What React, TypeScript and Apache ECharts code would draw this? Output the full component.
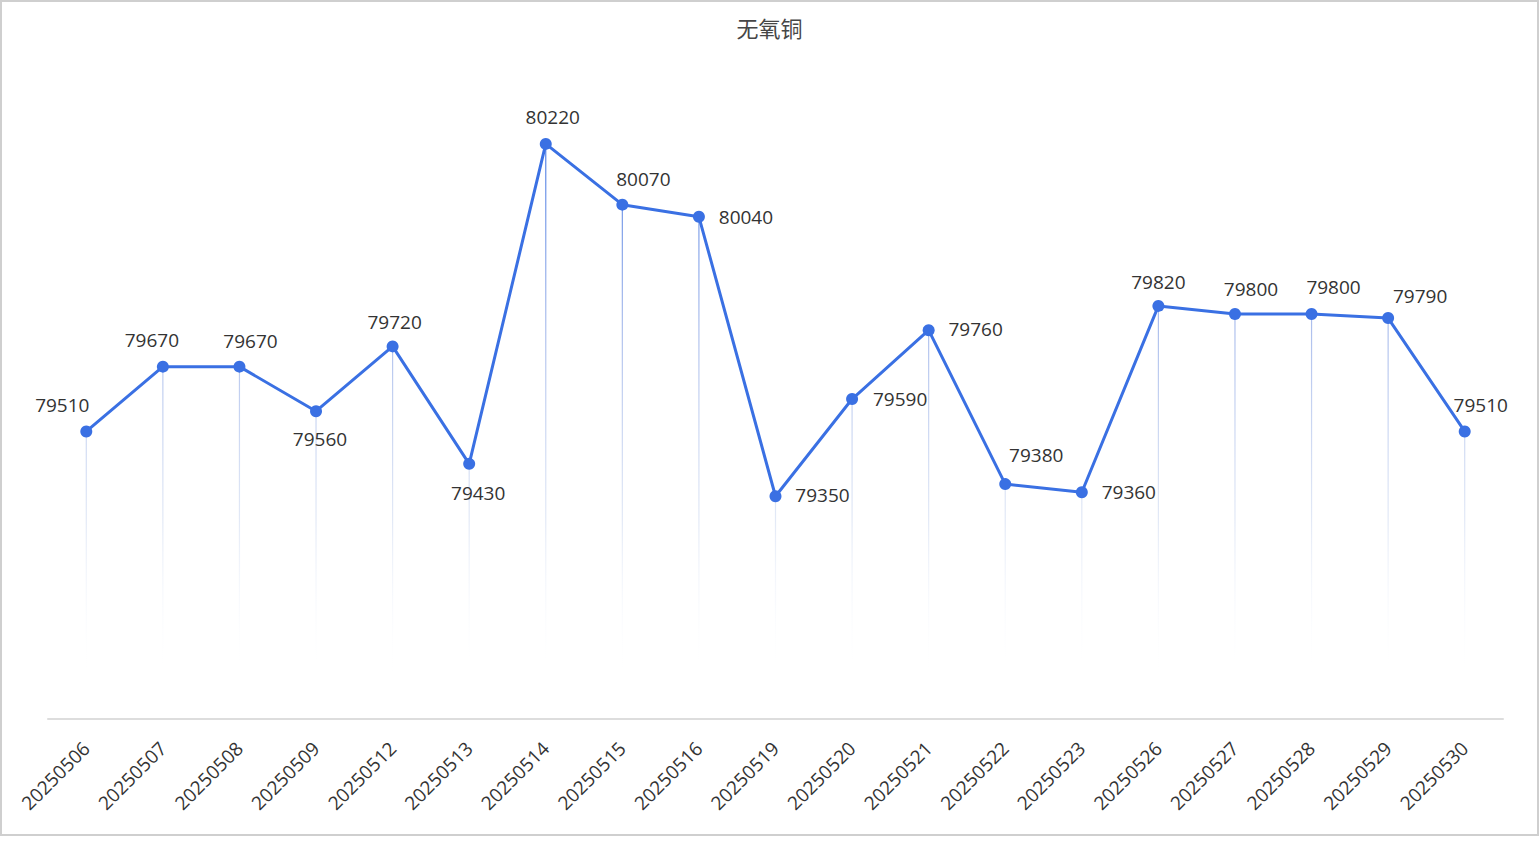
import React, { useEffect, useRef } from "react";
import * as echarts from "echarts";

const categories = [
  "20250506", "20250507", "20250508", "20250509", "20250512", "20250513",
  "20250514", "20250515", "20250516", "20250519", "20250520", "20250521",
  "20250522", "20250523", "20250526", "20250527", "20250528", "20250529", "20250530",
];

const prices = [
  79510, 79670, 79670, 79560, 79720, 79430,
  80220, 80070, 80040, 79350, 79590, 79760,
  79380, 79360, 79820, 79800, 79800, 79790, 79510,
];

// label offsets from each point's centre (styling only)
const labelOffsets: [number, number][] = [
  [-24, -26], [-11, -27], [11, -26], [4, 28], [2, -24], [9, 29],
  [7, -27], [21, -26], [47, 0], [47, -1], [48, 0], [47, -1],
  [31, -29], [47, 0], [0, -24], [16, -25], [22, -27], [32, -22], [16, -26],
];

const TITLE = "无氧铜";
const LINE_COLOR = "#3a70e3";

export default function App() {
  const ref = useRef<HTMLDivElement>(null);

  useEffect(() => {
    if (!ref.current) return;
    const chart = echarts.init(ref.current, undefined, { renderer: "svg" });
    chart.setOption({
      animation: false,
      backgroundColor: "#ffffff",
      title: {
        text: TITLE,
        left: "center",
        top: 16,
        padding: 0,
        textStyle: {
          fontSize: 22,
          fontWeight: "normal",
          color: "#464646",
          fontFamily: "Noto Sans CJK SC",
        },
      },
      grid: { left: 48, right: 36, top: 71, bottom: 117, containLabel: false },
      xAxis: {
        type: "category",
        data: categories,
        boundaryGap: true,
        axisLine: { show: true, lineStyle: { color: "#dddddd", width: 2 } },
        axisTick: { show: false },
        axisLabel: {
          interval: 0,
          rotate: 45,
          margin: 26,
          fontSize: 19,
          color: "#333333",
          fontFamily: "Open Sans",
        },
        splitLine: { show: false },
      },
      yAxis: {
        type: "value",
        min: 78800,
        max: 80400,
        show: false,
        splitLine: { show: false },
      },
      series: [
        {
          type: "bar",
          data: prices,
          barWidth: 1.2,
          z: 1,
          silent: true,
          itemStyle: {
            color: new echarts.graphic.LinearGradient(
              0, 140, 0, 680,
              [
                { offset: 0, color: "rgba(58,112,227,0.9)" },
                { offset: 0.35, color: "rgba(120,150,225,0.6)" },
                { offset: 0.7, color: "rgba(190,205,235,0.45)" },
                { offset: 1, color: "rgba(255,255,255,0)" },
              ],
              true
            ),
          },
        },
        {
          type: "line",
          data: prices.map((v, i) => ({
            value: v,
            label: { offset: labelOffsets[i] },
          })),
          z: 3,
          symbol: "circle",
          symbolSize: 12,
          lineStyle: { color: LINE_COLOR, width: 3 },
          itemStyle: { color: LINE_COLOR },
          label: {
            show: true,
            position: "inside",
            fontSize: 19,
            color: "#333333",
            fontFamily: "Open Sans",
          },
        },
      ],
    });
    return () => chart.dispose();
  }, []);

  return (
    <div style={{ position: "absolute", left: 0, top: 0, width: 1539, height: 836 }}>
      <div ref={ref} style={{ position: "absolute", left: 0, top: 0, width: 1539, height: 836 }} />
      <div
        style={{
          position: "absolute",
          left: 0,
          top: 0,
          width: 1539,
          height: 836,
          boxSizing: "border-box",
          border: "2px solid #cfcfcf",
          pointerEvents: "none",
        }}
      />
    </div>
  );
}
